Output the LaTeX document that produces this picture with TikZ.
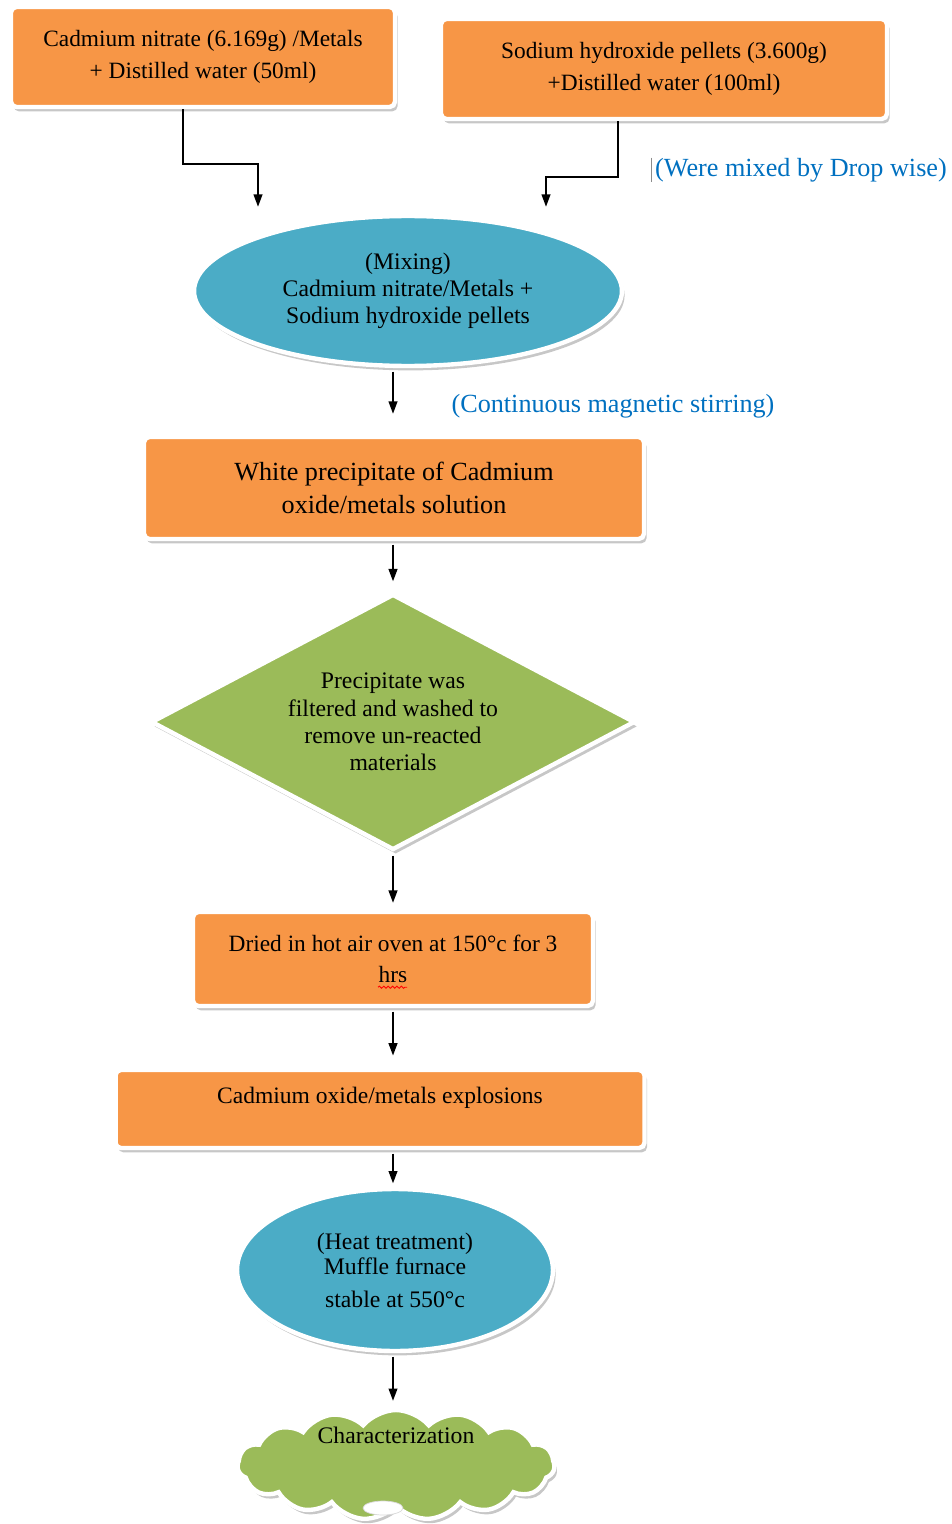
\documentclass[tikz,border=0pt]{standalone}
\usepackage{fontspec}
\setmainfont{Liberation Serif}
\usetikzlibrary{shapes.geometric,shapes.symbols,shadows,arrows.meta,decorations.pathmorphing}
\definecolor{boxorange}{HTML}{F79646}
\definecolor{ovalblue}{HTML}{4BACC6}
\definecolor{leafgreen}{HTML}{9BBB59}
\definecolor{noteblue}{HTML}{0070C0}
\begin{document}
\begin{tikzpicture}[x=0.02cm, y=-0.02cm,
    every node/.style={font=\fontsize{13.3}{18}\selectfont, align=center, inner sep=0pt},
    shade/.style={drop shadow={shadow xshift=1.5pt, shadow yshift=-2.5pt, fill=black!22, opacity=1}},
    flowbox/.style={rectangle, rounded corners=3pt, fill=boxorange, draw=white, line width=2.5pt, shade},
    flowoval/.style={ellipse, fill=ovalblue, draw=white, line width=2.5pt, shade},
    flowdiamond/.style={diamond, aspect=1.9, fill=leafgreen, draw=white, line width=2.5pt, shade},
    flowcloud/.style={cloud, cloud puffs=15, cloud puff arc=100, aspect=3.6, fill=leafgreen, draw=white, line width=2.5pt, shade},
    note/.style={text=noteblue, font=\fontsize{14.9}{17}\selectfont},
    flowarrow/.style={-{Triangle[length=7pt,width=5pt]}, line width=0.9pt, shorten <=2pt, shorten >=3pt}]
  \useasboundingbox (0,0) rectangle (952,1524);
  \node[flowbox, minimum width=7.68cm, minimum height=2.0cm] (nitrate) at (203,57) {Cadmium nitrate (6.169g) /Metals\\+ Distilled water (50ml)};
  \node[flowbox, minimum width=8.92cm, minimum height=2.0cm] (hydroxide) at (664,69) {Sodium hydroxide pellets (3.600g)\\+Distilled water (100ml)};
  \node[flowoval, minimum width=8.56cm, minimum height=3.0cm, font=\fontsize{13.5}{15.5}\selectfont] (mixing) at (408,291) {(Mixing)\\Cadmium nitrate/Metals +\\Sodium hydroxide pellets};
  \node[flowbox, minimum width=10cm, minimum height=2.04cm, font=\fontsize{14.9}{18.5}\selectfont] (white) at (394,488) {White precipitate of Cadmium\\oxide/metals solution};
  \node[flowdiamond, minimum width=9.68cm, minimum height=5.12cm, font=\fontsize{13.5}{15.5}\selectfont] (washed) at (393,722) {Precipitate was\\filtered and washed to\\remove un-reacted\\materials};
  \node[flowbox, minimum width=8cm, minimum height=1.88cm] (dried) at (393,959) {Dried in hot air oven at 150°c for 3\\hrs};
  \node[flowbox, minimum width=10.58cm, minimum height=1.56cm, font=\fontsize{13.4}{18}\selectfont] (explosion) at (380,1109) {\raisebox{3pt}[0pt][0pt]{Cadmium oxide/metals explosions}};
  \node[flowoval, minimum width=6.32cm, minimum height=3.24cm, font=\fontsize{13.5}{14.5}\selectfont] (heat) at (395,1270) {(Heat treatment)\\Muffle furnace\\[4pt]stable at 550°c};
  \node[flowcloud, minimum width=6.34cm, minimum height=2.2cm, font=\fontsize{13.5}{16}\selectfont] (charac) at (396,1465) {\raisebox{12pt}[0pt][0pt]{Characterization}};
  \node[ellipse, fill=white, draw=black!15, minimum width=0.8cm, minimum height=0.28cm] (puff) at (383,1508) {};
  % notes beside the arrows
  \node[note] (drop) at (801,170) {(Were mixed by Drop wise)};
  \draw[black!45, thin] ([xshift=-2pt]drop.north west) -- ([xshift=-2pt]drop.south west);
  \node[note] (stir) at (613,406) {(Continuous magnetic stirring)};
  \draw[red, line width=0.5pt, decorate, decoration={snake, amplitude=0.6pt, segment length=2.5pt}] ([xshift=-0.3cm, yshift=0.42cm]dried.south) -- ([xshift=0.28cm, yshift=0.42cm]dried.south);
  % arrows
  \coordinate (axis) at (393,0);
  \coordinate (mixL) at (258,212);
  \coordinate (mixR) at (546,212);
  \draw[flowarrow, shorten <=0pt] ([xshift=-0.4cm]nitrate.south) -- ++(0,55) -| (mixL);
  \draw[flowarrow, shorten <=0pt] ([xshift=-0.92cm]hydroxide.south) -- ++(0,56) -| (mixR);
  \foreach \src/\dst/\gap in {mixing/white/12pt, white/washed/6pt, washed/dried/4pt, dried/explosion/7pt, explosion/heat/2pt, heat/charac/4pt}
    \draw[flowarrow, shorten >=\gap] (\src.south -| axis) -- (\dst.north -| axis);
\end{tikzpicture}
\end{document}
